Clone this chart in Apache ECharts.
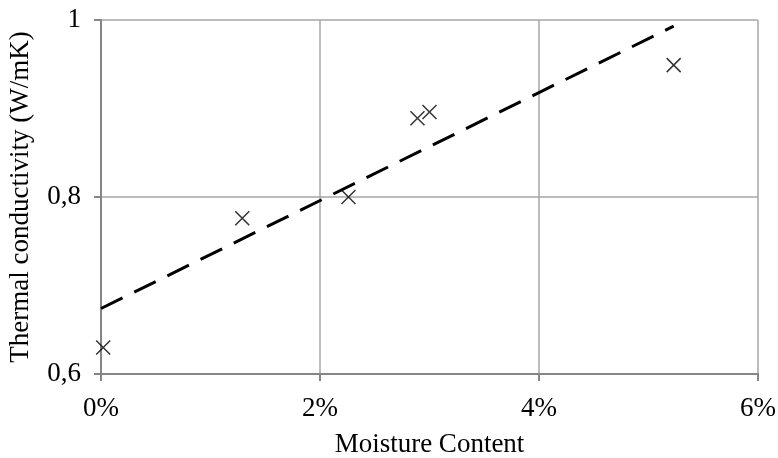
<!DOCTYPE html>
<html>
<head>
<meta charset="utf-8">
<script src="https://cdn.jsdelivr.net/npm/echarts@6/dist/echarts.min.js"></script>
<style>
html,body{margin:0;padding:0;background:#fff;}
#chart{width:778px;height:458px;}
</style>
</head>
<body>
<div id="chart"></div>
<script>
// Measured points (moisture content as fraction, conductivity W/mK)
var moisture = [0.0002, 0.0129, 0.0226, 0.0289, 0.0300, 0.0523];
var conductivity = [0.630, 0.776, 0.800, 0.889, 0.896, 0.949];
// Linear trendline endpoints
var trendX = [0, 0.0523];
var trendY = [0.674, 0.993];
// Tick labels
var xTickLabels = ['0%', '2%', '4%', '6%'];
var yTickLabels = ['0,6', '0,8', '1'];
var xTitle = 'Moisture Content';
var yTitle = 'Thermal conductivity (W/mK)';

var points = moisture.map(function (m, i) { return [m, conductivity[i]]; });
var trend = trendX.map(function (m, i) { return [m, trendY[i]]; });

var font = 'Liberation Serif';
var chart = echarts.init(document.getElementById('chart'), null, {renderer: 'canvas'});
chart.setOption({
  animation: false,
  backgroundColor: '#fff',
  grid: {left: 101, right: 20, top: 20, bottom: 84, containLabel: false, outerBoundsMode: 'none'},
  xAxis: {
    type: 'value', min: 0, max: 0.06, interval: 0.02,
    name: xTitle, nameLocation: 'middle', nameGap: 57,
    nameTextStyle: {fontFamily: font, fontSize: 27, color: '#000'},
    axisLine: {show: true, lineStyle: {color: '#868686', width: 2}},
    axisTick: {show: true, length: 7, lineStyle: {color: '#868686', width: 2}},
    axisLabel: {
      fontFamily: font, fontSize: 27, color: '#000', margin: 21,
      formatter: function (v, i) { return xTickLabels[i]; }
    },
    splitLine: {show: true, lineStyle: {color: '#a6a6a6', width: 1.5}}
  },
  yAxis: {
    type: 'value', min: 0.6, max: 1, interval: 0.2,
    name: yTitle, nameLocation: 'middle', nameGap: 67, nameRotate: 90,
    nameTextStyle: {fontFamily: font, fontSize: 27, color: '#000'},
    axisLine: {show: true, lineStyle: {color: '#868686', width: 2}},
    axisTick: {show: true, length: 7, lineStyle: {color: '#868686', width: 2}},
    axisLabel: {
      fontFamily: font, fontSize: 27, color: '#000', margin: 20,
      formatter: function (v, i) { return yTickLabels[i]; }
    },
    splitLine: {show: true, lineStyle: {color: '#a6a6a6', width: 1.5}}
  },
  series: [
    {
      type: 'line', data: trend, showSymbol: false, symbol: 'none',
      lineStyle: {color: '#000', width: 3, type: [24, 13]},
      z: 2
    },
    {
      type: 'scatter', data: points,
      symbol: 'path://M0,0L10,10M10,0L0,10', symbolSize: 14,
      itemStyle: {color: 'transparent', borderColor: '#000', borderWidth: 1.5},
      z: 3
    }
  ]
});
</script>
</body>
</html>
